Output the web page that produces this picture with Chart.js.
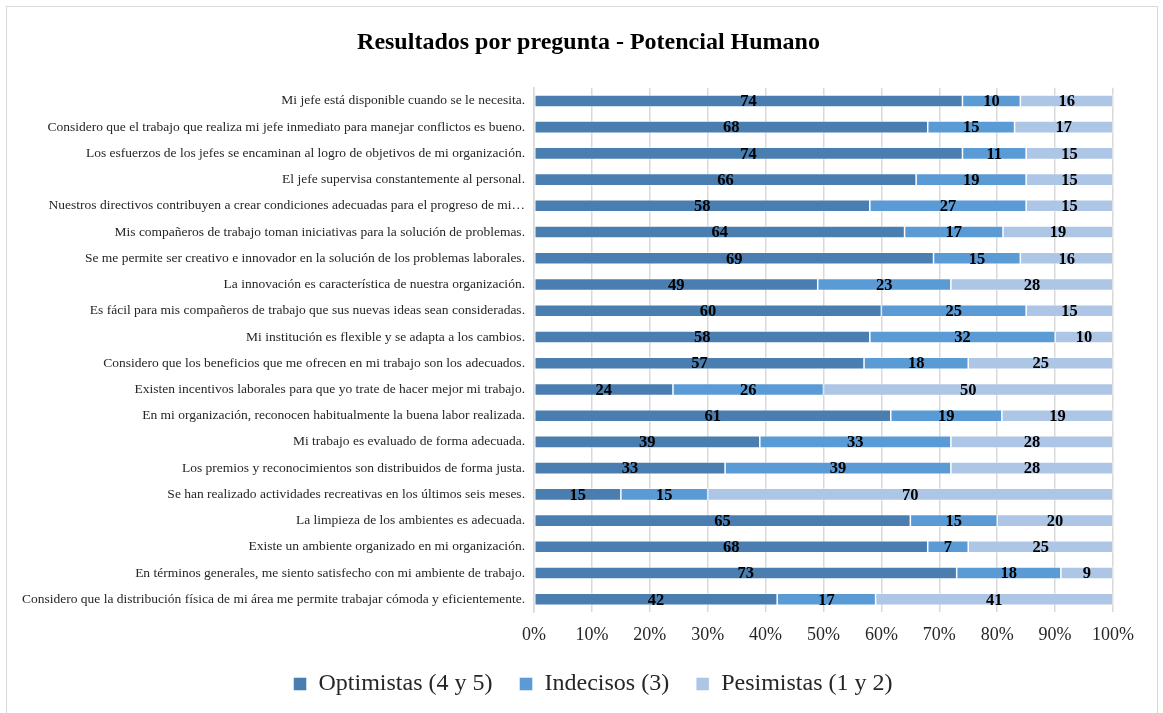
<!DOCTYPE html>
<html>
<head>
<meta charset="utf-8">
<script src="https://cdn.jsdelivr.net/npm/chart.js@4.4.1/dist/chart.umd.min.js"></script>
<style>
html,body{margin:0;padding:0;background:#fff;}
#wrap{position:absolute;left:0;top:0;width:1163px;height:713px;}
#frame{position:absolute;left:6px;top:6px;width:1152px;height:720px;border:1px solid #d9d9d9;box-sizing:border-box;pointer-events:none;}
</style>
</head>
<body>
<div id="wrap"><canvas id="c" width="1163" height="713"></canvas></div>
<div id="frame"></div>
<script>
const categories = [
  "Mi jefe está disponible cuando se le necesita.",
  "Considero que el trabajo que realiza mi jefe inmediato para manejar conflictos es bueno.",
  "Los esfuerzos de los jefes se encaminan al logro de objetivos de mi organización.",
  "El jefe supervisa constantemente al personal.",
  "Nuestros directivos contribuyen a crear condiciones adecuadas para el progreso de mi…",
  "Mis compañeros de trabajo toman iniciativas para la solución de problemas.",
  "Se me permite ser creativo e innovador en la solución de los problemas laborales.",
  "La innovación es característica de nuestra organización.",
  "Es fácil para mis compañeros de trabajo que sus nuevas ideas sean consideradas.",
  "Mi institución es flexible y se adapta a los cambios.",
  "Considero que los beneficios que me ofrecen en mi trabajo son los adecuados.",
  "Existen incentivos laborales para que yo trate de hacer mejor mi trabajo.",
  "En mi organización, reconocen habitualmente la buena labor realizada.",
  "Mi trabajo es evaluado de forma adecuada.",
  "Los premios y reconocimientos son distribuidos de forma justa.",
  "Se han realizado actividades recreativas en los últimos seis meses.",
  "La limpieza de los ambientes es adecuada.",
  "Existe un ambiente organizado en mi organización.",
  "En términos generales, me siento satisfecho con mi ambiente de trabajo.",
  "Considero que la distribución física de mi área me permite trabajar cómoda y eficientemente."
];
const optimistas = [74,68,74,66,58,64,69,49,60,58,57,24,61,39,33,15,65,68,73,42];
const indecisos  = [10,15,11,19,27,17,15,23,25,32,18,26,19,33,39,15,15,7,18,17];
const pesimistas = [16,17,15,15,15,19,16,28,15,10,25,50,19,28,28,70,20,25,9,41];
const seriesNames = ["Optimistas (4 y 5)","Indecisos (3)","Pesimistas (1 y 2)"];
const xTicks = [0,10,20,30,40,50,60,70,80,90,100];
const titleText = "Resultados por pregunta - Potencial Humano";

const raw = [optimistas, indecisos, pesimistas];
const totals = categories.map((_, i) => raw.reduce((s, a) => s + a[i], 0));
const pct = raw.map(a => a.map((v, i) => v / totals[i] * 100));
const colors = ["#4a7eb1", "#5b9bd5", "#aec6e6"];

const serif = "'Liberation Serif','Times New Roman',serif";
const LEGEND_SHRINK = 13;

const labelPlugin = {
  id: 'segLabels',
  beforeLayout(chart) {
    const lg = chart.legend;
    if (lg && !lg._patched) {
      const f = lg.fit.bind(lg);
      lg.fit = function () { f(); this.height = this.height - LEGEND_SHRINK; };
      lg._patched = true;
    }
  },
  afterLayout(chart) {
    if (chart.titleBlock) { chart.titleBlock.left = 64; chart.titleBlock.right = 1113; }
    if (chart.legend) {
      chart.legend.left = 71; chart.legend.right = 1115;
      chart.legend.top -= LEGEND_SHRINK;
    }
  },
  afterDatasetsDraw(chart) {
    const ctx = chart.ctx;
    ctx.save();
    ctx.font = "bold 16.5px " + serif;
    ctx.fillStyle = "#000";
    ctx.textAlign = "center";
    ctx.textBaseline = "middle";
    chart.data.datasets.forEach((ds, di) => {
      const meta = chart.getDatasetMeta(di);
      meta.data.forEach((bar, i) => {
        const x = (bar.x + bar.base) / 2;
        ctx.fillText(String(raw[di][i]), x, bar.y + 1);
      });
    });
    ctx.restore();
  }
};

new Chart(document.getElementById('c'), {
  type: 'bar',
  data: {
    labels: categories,
    datasets: seriesNames.map((n, k) => ({
      label: n,
      data: pct[k],
      backgroundColor: colors[k],
      borderColor: "rgba(255,255,255,0.6)",
      borderWidth: 0.75,
      borderSkipped: false,
      barPercentage: 0.46,
      categoryPercentage: 1.0
    }))
  },
  options: {
    indexAxis: 'y',
    responsive: false,
    animation: false,
    devicePixelRatio: 1,
    layout: { padding: { left: 0, right: 50, top: 0, bottom: 7 } },
    scales: {
      x: {
        stacked: true,
        min: 0, max: 100,
        afterBuildTicks(scale) { scale.ticks = xTicks.map(v => ({ value: v })); },
        ticks: {
          callback: v => v + "%",
          font: { family: serif, size: 18 },
          color: "#262626",
          padding: 12,
          maxRotation: 0
        },
        grid: { color: "#d9d9d9", lineWidth: 1.5, drawTicks: false },
        border: { display: false }
      },
      y: {
        stacked: true,
        afterFit(scale) { scale.width = 534; },
        ticks: {
          font: { family: serif, size: 13.5 },
          color: "#262626",
          padding: 9,
          autoSkip: false
        },
        grid: { display: false, drawTicks: false },
        border: { display: true, color: "#d9d9d9", width: 1.5 }
      }
    },
    plugins: {
      title: {
        display: true,
        text: titleText,
        font: { family: serif, size: 24, weight: 'bold' },
        color: "#000",
        padding: { top: 28, bottom: 31 }
      },
      legend: {
        position: 'bottom',
        labels: {
          font: { family: serif, size: 24 },
          color: "#262626",
          boxWidth: 13,
          boxHeight: 13,
          padding: 27
        }
      },
      tooltip: { enabled: false }
    }
  },
  plugins: [labelPlugin]
});
</script>
</body>
</html>
